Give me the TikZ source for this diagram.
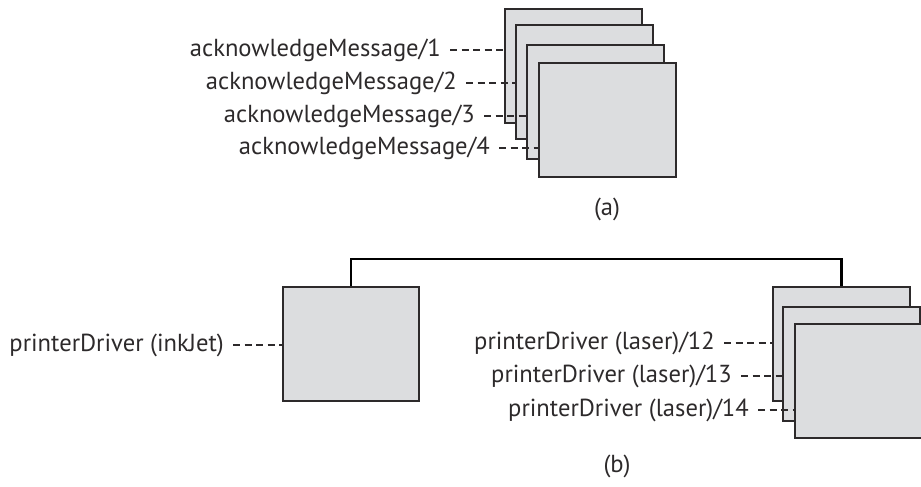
\documentclass[tikz,border=0pt]{standalone}
\usepackage{fontspec}
\setmainfont{PT Sans}
\usetikzlibrary{positioning}

\definecolor{boxfill}{RGB}{220,221,223}
\definecolor{ink}{RGB}{45,42,43}

\begin{document}
\begin{tikzpicture}[
  x=1pt, y=-1pt,
  font=\fontsize{24.6}{28}\selectfont,
  text=ink,
  obj/.style={draw=ink, fill=boxfill, line width=1.6pt, anchor=north west,
              minimum width=137pt, minimum height=114pt, inner sep=0pt},
  lbl/.style={anchor=east, inner xsep=9pt, inner ysep=0pt},
  dashlink/.style={draw=ink, line width=1.2pt, dash pattern=on 7pt off 4.5pt},
  bar/.style={draw=black, line width=2.6pt},
  caption/.style={inner sep=0pt},
]
  \clip (0,0) rectangle (921,487);
  \useasboundingbox (0,0) rectangle (921,487);

  % --- (a) stack of acknowledgeMessage objects ---
  \node[obj] (ack1) at (504,8)  {};
  \node[obj] (ack2) at (515,24) {};
  \node[obj] (ack3) at (526,44) {};
  \node[obj] (ack4) at (538,62) {};

  \node[lbl] (la1) at (450,50)  {acknowledgeMessage/1};
  \node[lbl] (la2) at (466,83)  {acknowledgeMessage/2};
  \node[lbl] (la3) at (484,116) {acknowledgeMessage/3};
  \node[lbl] (la4) at (499,148) {acknowledgeMessage/4};

  \draw[dashlink] (la1.east) -- (la1.east -| ack1.west);
  \draw[dashlink] (la2.east) -- (la2.east -| ack2.west);
  \draw[dashlink] (la3.east) -- (la3.east -| ack3.west);
  \draw[dashlink] (la4.east) -- (la4.east -| ack4.west);

  \node[caption] (capa) at (607,209) {(a)};

  % --- (b) printer drivers ---
  \node[obj, minimum width=136pt] (inkjet) at (282,286) {};
  \node[obj] (laser1) at (772,286) {};
  \node[obj] (laser2) at (782,306) {};
  \node[obj] (laser3) at (794,323) {};

  \draw[bar] (inkjet.north) -- ++(0,-27) -| (laser1.north);

  \node[lbl] (lb0) at (233,345) {printerDriver (inkJet)};
  \node[lbl] (lb1) at (724,343) {printerDriver (laser)/12};
  \node[lbl] (lb2) at (741,376) {printerDriver (laser)/13};
  \node[lbl] (lb3) at (758,410) {printerDriver (laser)/14};

  \draw[dashlink] (lb0.east) -- (lb0.east -| inkjet.west);
  \draw[dashlink] (lb1.east) -- (lb1.east -| laser1.west);
  \draw[dashlink] (lb2.east) -- (lb2.east -| laser2.west);
  \draw[dashlink] (lb3.east) -- (lb3.east -| laser3.west);

  \node[caption] (capb) at (617,466) {(b)};
\end{tikzpicture}
\end{document}
